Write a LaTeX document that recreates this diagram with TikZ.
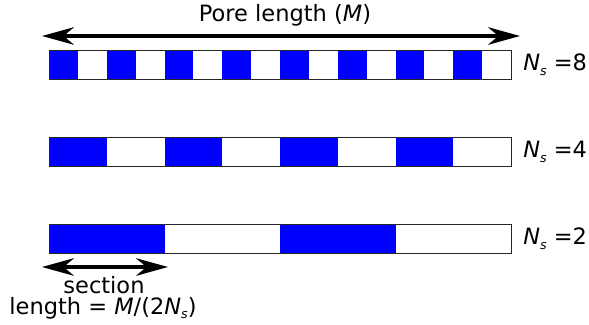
\documentclass[tikz,border=0pt]{standalone}
\usepackage{fontspec}
\setmainfont{DejaVu Sans}
\usetikzlibrary{arrows.meta}
\newcommand{\subs}{\raisebox{-3.5pt}{\fontsize{9}{9}\selectfont\textit{s}}}

\begin{document}
\begin{tikzpicture}[x=0.025cm,y=0.025cm,
	txt/.style={font=\fontsize{16}{19}\selectfont, inner sep=0pt},
	dimline/.style={{Stealth[length=0.8cm,width=0.44cm,inset=0.26cm]}-{Stealth[length=0.8cm,width=0.44cm,inset=0.26cm]}, line width=2.2pt}]
	\useasboundingbox (0,0) rectangle (589,324);

	% length of the pore
	\coordinate (poreL) at (42,288);
	\coordinate (poreR) at (520,288);
	\draw[dimline] (poreL) -- (poreR);
	\node[txt] (poretext) at (285,309) {Pore length (\textit{M})};

	% the three bars
	\foreach \n/\yy in {8/259.5,4/172,2/85.5}{
		\pgfmathsetmacro\w{462/(2*\n)}
		\pgfmathtruncatemacro\last{\n-1}
		\foreach \k in {0,...,\last}{
			\fill[blue] (49+2*\k*\w,\yy-14.5) rectangle ++(\w,29);
		}
		\draw[line width=0.7pt, black!85] (49,\yy-14.5) rectangle (511,\yy+14.5);
		\node[txt, anchor=west] (ns\n) at (523,\yy) {\textit{N}\subs\ =\n};
	}

	% length of a section
	\coordinate (secL) at (42,57);
	\coordinate (secR) at (168,57);
	\draw[dimline] (secL) -- (secR);
	\node[txt] (sectext) at (104,39) {section};
	\node[txt] (lentext) at (103,16) {length = \textit{M}/(2\textit{N}\subs)};
\end{tikzpicture}
\end{document}
